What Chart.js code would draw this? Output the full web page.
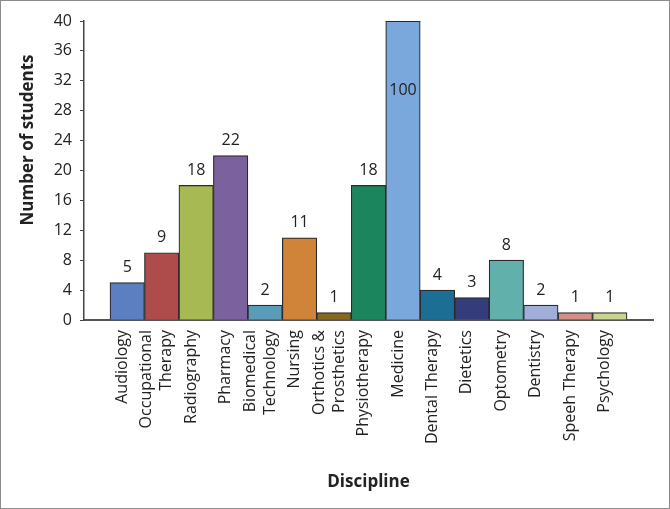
<!DOCTYPE html>
<html>
<head>
<meta charset="utf-8">
<script src="https://cdn.jsdelivr.net/npm/chart.js@4"></script>
<style>
  html, body { margin: 0; padding: 0; background: #fff; }
  #frame { width: 670px; height: 509px; box-sizing: border-box; border: 1px solid #8c8c8c; }
  #graph { display: block; }
</style>
</head>
<body>
<div id="frame"><canvas id="graph" width="668" height="507"></canvas></div>
<script>
// données
const disciplines = [
    'Audiology', ['Occupational', 'Therapy'], 'Radiography', 'Pharmacy',
    ['Biomedical', 'Technology'], 'Nursing', ['Orthotics &', 'Prosthetics'],
    'Physiotherapy', 'Medicine', 'Dental Therapy', 'Dietetics', 'Optometry',
    'Dentistry', 'Speeh Therapy', 'Psychology'
];
const students = [5, 9, 18, 22, 2, 11, 1, 18, 100, 4, 3, 8, 2, 1, 1];
const barColors = [
    '#5b7fc0', '#ae4b4b', '#a7b952', '#7b629f', '#5a9cb8', '#cf843a', '#86691f',
    '#1b855e', '#7aa8dc', '#1c6e95', '#353c7c', '#61b0ac', '#a1aed8', '#d18f88', '#c9d490'
];
const yTicksMax = 40;
const yStep = 2;

const txt = '#222';
const axisColor = '#555';
const fontFam = "'Open Sans', 'Noto Sans', sans-serif";

// étiquettes de valeur au-dessus des barres
const valueLabels = {
    id: 'valueLabels',
    afterDatasetsDraw(chart) {
        const ctx = chart.ctx;
        const meta = chart.getDatasetMeta(0);
        const area = chart.chartArea;
        ctx.save();
        ctx.font = '16px ' + fontFam;
        ctx.fillStyle = txt;
        ctx.textAlign = 'center';
        ctx.textBaseline = 'middle';
        meta.data.forEach((bar, i) => {
            const v = students[i];
            if (v > yTicksMax) {
                // barre coupée : bord du haut + valeur dans la barre
                const half = bar.width / 2;
                ctx.strokeStyle = '#2b2b2b';
                ctx.lineWidth = 1.2;
                ctx.beginPath();
                ctx.moveTo(bar.x - half, area.top + 0.5);
                ctx.lineTo(bar.x + half, area.top + 0.5);
                ctx.stroke();
                ctx.fillText(String(v), bar.x, area.top + 69);
            } else {
                ctx.fillText(String(v), bar.x, bar.y - 15);
            }
        });
        ctx.restore();
    }
};

// libellés des disciplines (verticaux) et titres des axes
const axisText = {
    id: 'axisText',
    afterDraw(chart) {
        const ctx = chart.ctx;
        const xs = chart.scales.x;
        const lh = 20;
        ctx.save();
        ctx.fillStyle = txt;

        ctx.font = '16px ' + fontFam;
        ctx.textAlign = 'right';
        ctx.textBaseline = 'middle';
        disciplines.forEach((lab, i) => {
            const lines = Array.isArray(lab) ? lab : [lab];
            const cx = xs.getPixelForValue(i) - 5;
            lines.forEach((line, j) => {
                ctx.save();
                ctx.translate(cx + (j - (lines.length - 1) / 2) * lh, xs.top + 10);
                ctx.rotate(-Math.PI / 2);
                ctx.fillText(line, 0, 0);
                ctx.restore();
            });
        });

        ctx.font = 'bold 17px ' + fontFam;
        ctx.textAlign = 'center';
        ctx.fillText('Discipline', (xs.left + xs.right) / 2, 481);

        ctx.translate(27, 139);
        ctx.rotate(-Math.PI / 2);
        ctx.fillText('Number of students', 0, 0);
        ctx.restore();
    }
};

var graph = new Chart(document.getElementById('graph'), {
    type: 'bar',
    data: {
        datasets: [{
            data: students.map((v, i) => ({ x: i, y: v })),
            backgroundColor: barColors,
            borderColor: '#2b2b2b',
            borderWidth: 1.2,
            barPercentage: 1,
            categoryPercentage: 1,
            clip: { top: 0, left: false, right: false, bottom: false }
        }]
    },
    options: {
        responsive: false,
        animation: false,
        layout: { padding: { top: 20, right: 16, left: 0, bottom: 0 } },
        plugins: {
            legend: { display: false },
            tooltip: { enabled: false }
        },
        scales: {
            x: {
                type: 'linear',
                min: -1.254,
                max: 15.254,
                offset: false,
                grid: { display: false, offset: false },
                border: { display: true, color: axisColor, width: 2 },
                afterFit: s => { s.height = 188; },
                ticks: { display: false }
            },
            y: {
                min: 0,
                max: yTicksMax,
                grid: { drawOnChartArea: false, drawTicks: true, tickLength: 4, color: '#444', lineWidth: 1 },
                border: { display: true, color: '#444', width: 1.5 },
                afterFit: s => { s.width = 83; },
                ticks: {
                    stepSize: yStep,
                    padding: 8,
                    color: txt,
                    font: { family: fontFam, size: 16 },
                    callback: v => (v % 4 === 0 ? String(v) : '')
                }
            }
        }
    },
    plugins: [valueLabels, axisText]
});
</script>
</body>
</html>
